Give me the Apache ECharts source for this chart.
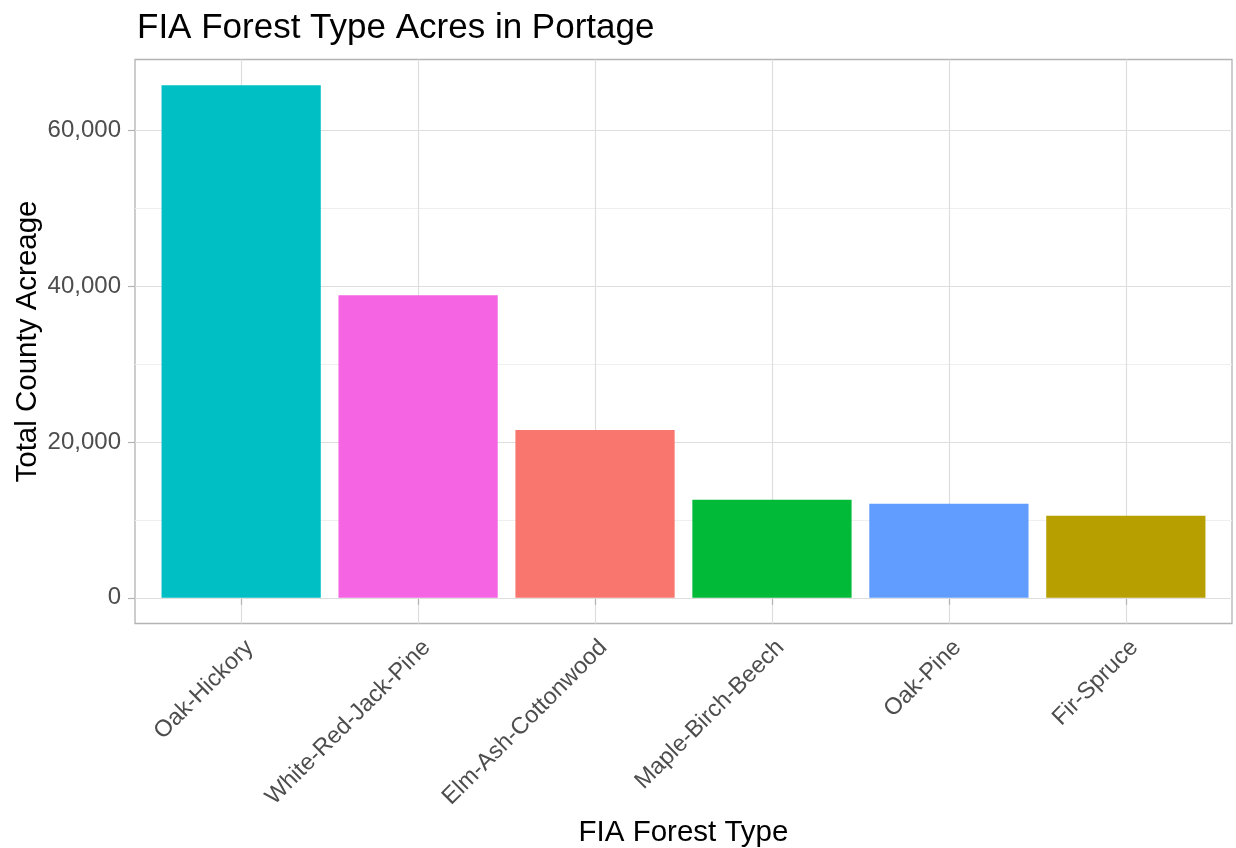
<!DOCTYPE html>
<html>
<head>
<meta charset="utf-8">
<script src="https://cdn.jsdelivr.net/npm/echarts@6/dist/echarts.min.js"></script>
<style>
html,body{margin:0;padding:0;background:#fff;}
#chart{width:1236px;height:848px;}
</style>
</head>
<body>
<div id="chart"></div>
<script>
// ---- data ----
const categories = ['Oak-Hickory', 'White-Red-Jack-Pine', 'Elm-Ash-Cottonwood', 'Maple-Birch-Beech', 'Oak-Pine', 'Fir-Spruce'];
const values = [65740, 38810, 21520, 12580, 12060, 10530];
const yTicks = [0, 20000, 40000, 60000];
const colors = ['#00BFC4', '#F564E3', '#F8766D', '#00BA38', '#619CFF', '#B79F00'];
const titleText = 'FIA Forest Type Acres in Portage';
const xTitle = 'FIA Forest Type';
const yTitle = 'Total County Acreage';

// ---- layout (ggplot-like expansions) ----
const FONT = 'Liberation Sans, Arial, sans-serif';
const panelLeft = 135, panelTop = 59.5, panelWidth = 1097, panelHeight = 564;
const n = categories.length;
const unit = panelWidth / (n - 1 + 1.2);
const dataMax = Math.max.apply(null, values);
const yMin = -0.05 * dataMax, yMax = 1.05 * dataMax;
const pxPerVal = panelHeight / (yMax - yMin);
const tickMin = yTicks[0], tickMax = yTicks[yTicks.length - 1];
const tickStep = yTicks[1] - yTicks[0];

const chart = echarts.init(document.getElementById('chart'), null, {renderer: 'canvas'});
const fmt = v => v.toLocaleString('en-US');

chart.setOption({
  animation: false,
  backgroundColor: '#ffffff',
  textStyle: {fontFamily: FONT},
  title: {
    text: titleText, left: 132, top: 6,
    textStyle: {fontFamily: FONT, fontSize: 35, fontWeight: 'normal', color: '#000'}
  },
  grid: [
    {left: panelLeft, top: panelTop, width: panelWidth, height: panelHeight, show: true,
     borderColor: '#b3b3b3', borderWidth: 1.3, backgroundColor: 'transparent', containLabel: false, outerBoundsMode: 'none'},
    {left: panelLeft + 0.6 * unit, top: panelTop, width: (n - 1) * unit, height: panelHeight, containLabel: false, outerBoundsMode: 'none'},
    {left: panelLeft, width: panelWidth,
     top: panelTop + (yMax - tickMax) * pxPerVal, height: (tickMax - tickMin) * pxPerVal,
     containLabel: false, outerBoundsMode: 'none'}
  ],
  xAxis: [
    {gridIndex: 0, type: 'value', min: 0, max: 1, show: false},
    {gridIndex: 1, type: 'category', data: categories, boundaryGap: false,
     axisLine: {show: false},
     axisTick: {show: true, alignWithLabel: true, length: 7, lineStyle: {color: '#b3b3b3', width: 1.2}},
     axisLabel: {rotate: 45, margin: 12, verticalAlign: 'top', color: '#4d4d4d', fontSize: 23.5, fontFamily: FONT, interval: 0},
     splitLine: {show: true, lineStyle: {color: '#dedede', width: 1.2}},
     name: xTitle, nameLocation: 'middle', nameGap: 194,
     nameTextStyle: {fontSize: 29.5, color: '#000', fontFamily: FONT}},
    {gridIndex: 2, type: 'value', min: 0, max: 1, show: false}
  ],
  yAxis: [
    {gridIndex: 0, type: 'value', position: 'left', min: yMin, max: yMax,
     minInterval: tickStep / 2, maxInterval: tickStep / 2, z: 0,
     axisLine: {show: false}, axisTick: {show: false}, axisLabel: {show: false},
     splitLine: {show: true, showMinLine: false, showMaxLine: false, lineStyle: {color: '#efefef', width: 1}},
     name: yTitle, nameLocation: 'middle', nameGap: 92, nameRotate: 90,
     nameTextStyle: {fontSize: 29.5, color: '#000', fontFamily: FONT}},
    {gridIndex: 1, type: 'value', min: yMin, max: yMax, show: false},
    {gridIndex: 2, type: 'value', position: 'left', min: tickMin, max: tickMax, interval: tickStep, z: 1,
     axisLine: {show: false},
     axisTick: {show: true, length: 7, lineStyle: {color: '#b3b3b3', width: 1.2}},
     axisLabel: {show: true, margin: 14, color: '#4d4d4d', fontSize: 24, fontFamily: FONT, formatter: v => fmt(v)},
     splitLine: {show: true, lineStyle: {color: '#dedede', width: 1.2}}}
  ],
  series: [{
    type: 'bar', xAxisIndex: 1, yAxisIndex: 1, barWidth: '90%', clip: false,
    data: values.map((v, i) => ({value: v, itemStyle: {color: colors[i]}}))
  }]
});
</script>
</body>
</html>
